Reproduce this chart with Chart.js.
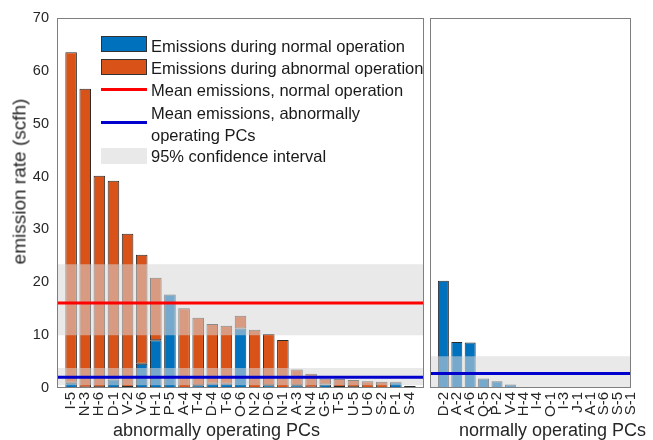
<!DOCTYPE html>
<html>
<head>
<meta charset="utf-8">
<script src="https://cdn.jsdelivr.net/npm/chart.js@4.4.1/dist/chart.umd.min.js"></script>
<style>
  html, body { margin: 0; padding: 0; background: #fff; }
  body {
    position: relative; width: 653px; height: 440px; overflow: hidden;
    font-family: "Liberation Sans", Arial, sans-serif; color: #262626;
  }
  canvas { position: absolute; top: 0; }
  #abnormalChart { left: 0; }
  #normalChart { left: 430px; }
  .axis-title { position: absolute; font-size: 18px; line-height: 18px; white-space: nowrap; }
  #yTitle {
    left: 19px; top: 181px; width: 240px; margin-left: -120px; margin-top: -9.5px;
    font-size: 19px; line-height: 19px; text-align: center; transform: rotate(-90deg);
  }
  .leg-text { position: absolute; left: 151px; font-size: 16.5px; line-height: 22px; white-space: nowrap; color: #1a1a1a; }
  .leg-box { position: absolute; left: 101px; width: 46px; height: 16px; box-sizing: border-box; }
  .leg-line { position: absolute; left: 101px; width: 46px; height: 3px; }
</style>
</head>
<body>
<canvas id="abnormalChart" width="432" height="440"></canvas>
<canvas id="normalChart" width="223" height="440"></canvas>

<div id="yTitle" class="axis-title">emission rate (scfh)</div>
<div class="axis-title" style="left:113px; top:421px;">abnormally operating PCs</div>
<div class="axis-title" style="left:459px; top:421px;">normally operating PCs</div>

<div class="leg-box" style="top:36px; background:#0072bd; border:1px solid #333;"></div>
<div class="leg-text" style="top:35px;">Emissions during normal operation</div>
<div class="leg-box" style="top:59px; background:#d95319; border:1px solid #333;"></div>
<div class="leg-text" style="top:57px;">Emissions during abnormal operation</div>
<div class="leg-line" style="top:88px; background:#ff0000;"></div>
<div class="leg-text" style="top:79px;">Mean emissions, normal operation</div>
<div class="leg-line" style="top:121px; background:#0000cc;"></div>
<div class="leg-text" style="top:102px;">Mean emissions, abnormally<br>operating PCs</div>
<div class="leg-box" style="top:148px; background:rgb(233,233,233);"></div>
<div class="leg-text" style="top:145px;">95% confidence interval</div>

<script>
// abnormally operating PCs (left panel), stacked bars
const abnormalLabels = ['I-5', 'N-3', 'H-6', 'D-1', 'V-2', 'V-6', 'H-1', 'P-5', 'A-4', 'T-4', 'D-4', 'T-6', 'O-6',
  'N-2', 'D-6', 'N-1', 'A-3', 'N-4', 'G-5', 'T-5', 'U-5', 'U-6', 'S-2', 'P-1', 'S-4'];
const abnormalDuringNormal = [1.0, 0.1, 0.15, 1.6, 0.2, 4.6, 9.05, 17.7, 0, 0.5, 0.8, 0.8, 11.25,
  0, 0.5, 0, 0.5, 0.1, 0.65, 0.2, 0.15, 0, 0, 1.1, 0];
const abnormalDuringAbnormal = [62.5, 56.5, 40.0, 37.6, 29.0, 20.6, 11.8, 0, 15.1, 12.8, 11.3, 11.0, 2.4,
  11.0, 9.7, 9.1, 3.0, 2.6, 1.1, 1.5, 1.35, 1.3, 1.2, 0.1, 0.4];

// normally operating PCs (right panel)
const normalLabels = ['D-2', 'A-2', 'A-6', 'Q-5', 'P-2', 'V-4', 'H-4', 'I-4', 'O-1', 'I-3', 'J-1', 'A-1', 'S-6', 'S-5', 'S-1'];
const normalValues = [20.3, 8.7, 8.6, 1.8, 1.3, 0.65, 0.15, 0.1, 0.05, 0.03, 0.02, 0.02, 0.01, 0.01, 0.01];

// means and 95% confidence intervals [low, high]
const meanNormalOp = 16.1;
const ciNormalOp = [10.0, 23.4];
const meanAbnormalPCs = 2.05;
const ciAbnormalPCs = [0.5, 3.8];
const meanNormalPCs = 2.75;
const ciNormalPCs = [0, 6.0];

const yTicks = [0, 10, 20, 30, 40, 50, 60, 70];

const BLUE = '#0072bd';
const ORANGE = '#d95319';
const BAND = 'rgba(215, 215, 215, 0.55)';
const TEXT = '#262626';
const FONT = '"Liberation Sans", Arial, sans-serif';

const framePlugin = {
  id: 'frame',
  afterDatasetsDraw(chart) {
    const { ctx, chartArea: a } = chart;
    ctx.save();
    ctx.strokeStyle = '#7f7f7f';
    ctx.lineWidth = 1;
    ctx.strokeRect(Math.round(a.left) + 0.5, Math.round(a.top) + 0.5,
      Math.round(a.right - a.left) - 1, Math.round(a.bottom - a.top) - 1);
    ctx.restore();
  },
};

const barSet = (label, values, color) => ({
  type: 'bar',
  label,
  data: values.map((v, i) => ({ x: i + 1, y: v })),
  backgroundColor: color,
  borderColor: '#2b2b2b',
  borderWidth: 1,
  borderSkipped: false,
  barPercentage: 0.82,
  categoryPercentage: 1,
  order: 3,
});

const hLine = (id, y, xMax, color) => ({
  type: 'line',
  label: id,
  stack: id,
  data: [{ x: 0, y }, { x: xMax, y }],
  borderColor: color,
  borderWidth: 3,
  pointRadius: 0,
  fill: false,
  order: 0,
});

const band = (id, ci, xMax) => ({
  type: 'line',
  label: id,
  stack: id,
  data: [{ x: 0, y: ci[0] }, { x: xMax, y: ci[0] }],
  borderWidth: 0,
  borderColor: 'rgba(0,0,0,0)',
  backgroundColor: BAND,
  pointRadius: 0,
  fill: { value: ci[1] },
  order: 1,
});

function makeChart(canvasId, labels, datasets, showY, padding) {
  const n = labels.length;
  const xMax = showY ? n + 1 : n;
  return new Chart(document.getElementById(canvasId), {
    type: 'bar',
    data: { datasets: datasets(xMax) },
    options: {
      responsive: false,
      animation: false,
      events: [],
      layout: { padding, autoPadding: false },
      plugins: { legend: { display: false }, tooltip: { enabled: false } },
      scales: {
        x: {
          type: 'linear',
          min: 0,
          max: xMax,
          stacked: true,
          offset: false,
          grid: { display: false, offset: false, drawTicks: false, tickLength: 0 },
          border: { display: false },
          afterBuildTicks: (axis) => { axis.ticks = labels.map((_, i) => ({ value: i + 1 })); },
          afterFit: (scale) => { scale.height = 52; },
          ticks: {
            autoSkip: false,
            minRotation: 90,
            maxRotation: 90,
            padding: 4,
            color: TEXT,
            font: { family: FONT, size: 15 },
            callback: (v) => labels[v - 1] || '',
          },
        },
        y: {
          display: showY,
          min: 0,
          max: 70,
          stacked: true,
          grid: { display: false, drawTicks: false, tickLength: 0 },
          border: { display: false },
          afterBuildTicks: (axis) => { axis.ticks = yTicks.map((v) => ({ value: v })); },
          afterFit: (scale) => { scale.width = showY ? 57 : 0; },
          ticks: { padding: 8, color: TEXT, font: { family: FONT, size: 14.5 } },
        },
      },
    },
    plugins: [framePlugin],
  });
}

makeChart('abnormalChart', abnormalLabels, (xMax) => [
  barSet('Emissions during normal operation', abnormalDuringNormal, BLUE),
  barSet('Emissions during abnormal operation', abnormalDuringAbnormal, ORANGE),
  band('ciNormalOp', ciNormalOp, xMax),
  band('ciAbnormalPCs', ciAbnormalPCs, xMax),
  hLine('meanNormalOp', meanNormalOp, xMax, '#ff0000'),
  hLine('meanAbnormalPCs', meanAbnormalPCs, xMax, '#0000cc'),
], true, { top: 18, right: 2, bottom: 0, left: 0 });

makeChart('normalChart', normalLabels, (xMax) => [
  barSet('Emissions during normal operation', normalValues, BLUE),
  band('ciNormalPCs', ciNormalPCs, xMax),
  hLine('meanNormalPCs', meanNormalPCs, xMax, '#0000cc'),
], false, { top: 18, right: 8, bottom: 0, left: 0 });
</script>
</body>
</html>
